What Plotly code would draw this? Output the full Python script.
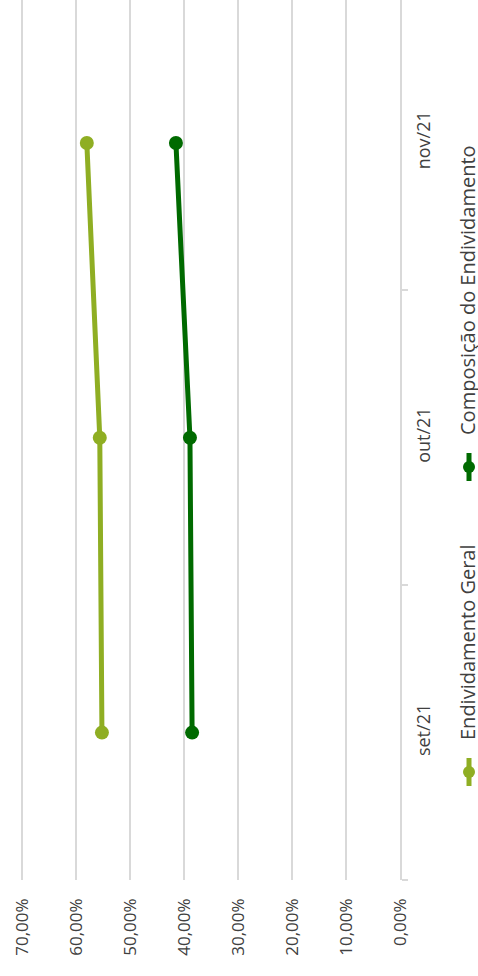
import plotly.graph_objects as go

categories = ["set/21", "out/21", "nov/21"]
endividamento_geral = [0.552, 0.556, 0.580]
composicao_endividamento = [0.385, 0.389, 0.415]
series_names = ["Endividamento Geral", "Composição do Endividamento"]
series_colors = ["#8fae23", "#006a00"]

FONT = "Open Sans, DejaVu Sans, sans-serif"
TXT = "#404040"
W, H = 478, 976
ML, MR, MT, MB = 21, 78, 0, 96

fig = go.Figure()
for name, vals, col in zip(series_names, [endividamento_geral, composicao_endividamento], series_colors):
    fig.add_trace(go.Scatter(
        x=vals, y=categories, mode="lines+markers", name=name,
        line=dict(color=col, width=5),
        marker=dict(color=col, size=14),
        showlegend=False, hoverinfo="skip",
    ))

fig.update_layout(
    width=W, height=H,
    margin=dict(l=ML, r=MR, t=MT, b=MB),
    paper_bgcolor="white", plot_bgcolor="white",
    separators=",.",
    font=dict(family=FONT, size=18, color=TXT),
    xaxis=dict(
        range=[0.7019, 0.0], tickvals=[0, 0.1, 0.2, 0.3, 0.4, 0.5, 0.6, 0.7],
        tickformat=".2%", tickangle=-90, showgrid=True, gridcolor="#d9d9d9",
        gridwidth=2, zeroline=False, showline=False, ticks="",
        ticklabelstandoff=14, tickfont=dict(size=17),
    ),
    yaxis=dict(
        type="category", categoryorder="array", categoryarray=categories,
        range=[-0.5, 2.485], side="right", tickangle=-90,
        showline=True, linecolor="#d9d9d9", linewidth=2,
        ticks="outside", tickson="boundaries", ticklen=6, tickcolor="#d9d9d9",
        tickwidth=2, showgrid=False, ticklabelstandoff=6,
        tickfont=dict(size=18),
    ),
)

# rotated legend, drawn to match the reference (legend on the right, rotated)
plot_w = W - ML - MR
plot_h = H - MT - MB
def px_x(p):
    return (p - ML) / plot_w
def px_y(p):
    return (H - MB - p) / plot_h

legend_items = [
    (series_names[0], series_colors[0], 772, 642),
    (series_names[1], series_colors[1], 467, 290),
]
lx = px_x(469)
for name, col, sym_y, txt_y in legend_items:
    fig.add_shape(type="line", xref="paper", yref="paper",
                  x0=lx, x1=lx, y0=px_y(sym_y + 14), y1=px_y(sym_y - 14),
                  line=dict(color=col, width=5))
    fig.add_shape(type="circle", xref="paper", yref="paper",
                  xsizemode="pixel", ysizemode="pixel",
                  xanchor=lx, yanchor=px_y(sym_y),
                  x0=-6, x1=6, y0=-6, y1=6,
                  fillcolor=col, line=dict(color=col, width=0))
    fig.add_annotation(text=name, xref="paper", yref="paper",
                       x=px_x(467), y=px_y(txt_y), textangle=-90, showarrow=False,
                       font=dict(family=FONT, size=20, color=TXT),
                       xanchor="center", yanchor="middle")

fig.write_html("out.html", post_script="document.body.style.margin='0';",
               config={"displayModeBar": False})
